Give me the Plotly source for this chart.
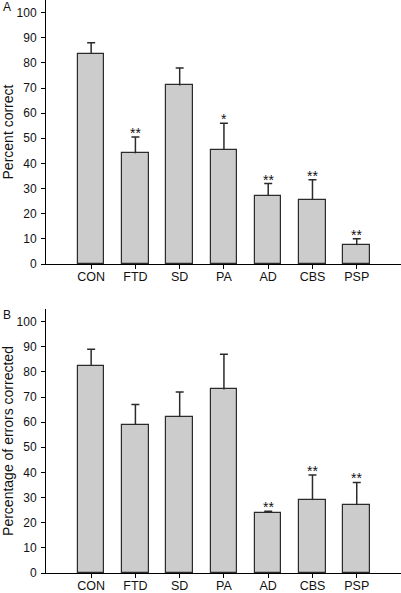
import plotly.graph_objects as go
from plotly.subplots import make_subplots

categories = ["CON", "FTD", "SD", "PA", "AD", "CBS", "PSP"]

percent_correct = [83.5, 44, 71, 45.5, 27, 25.5, 7.5]
percent_correct_err = [4.5, 6.5, 7, 10.5, 5, 8, 2.5]
percent_correct_sig = ["", "**", "", "*", "**", "**", "**"]

errors_corrected = [82.5, 59, 62, 73, 24, 29, 27]
errors_corrected_err = [6.5, 8, 10, 14, 0.6, 10, 9]
errors_corrected_sig = ["", "", "", "", "**", "**", "**"]

ylabels = ["Percent correct", "Percentage of errors corrected"]
panel_labels = ["A", "B"]

FONT = "Liberation Sans, Arial, sans-serif"
BAR_FILL = "#cccccc"
DARK = "#2b2b2b"

fig = make_subplots(rows=2, cols=1, vertical_spacing=(309 - 264) / 573)

panels = [
    (percent_correct, percent_correct_err, percent_correct_sig),
    (errors_corrected, errors_corrected_err, errors_corrected_sig),
]

for i, (vals, errs, sig) in enumerate(panels, start=1):
    fig.add_trace(
        go.Bar(
            x=categories,
            y=vals,
            width=0.6,
            marker=dict(color=BAR_FILL, line=dict(color=DARK, width=1.2)),
            showlegend=False,
            hoverinfo="skip",
        ),
        row=i,
        col=1,
    )
    # upper-only error whiskers
    wx, wy = [], []
    for c, v, e in zip(categories, vals, errs):
        wx += [c, c, None]
        wy += [v, v + e, None]
    fig.add_trace(
        go.Scatter(
            x=wx, y=wy, mode="lines",
            line=dict(color=DARK, width=1.5),
            showlegend=False, hoverinfo="skip",
        ),
        row=i, col=1,
    )
    # caps
    fig.add_trace(
        go.Scatter(
            x=categories,
            y=[v + e for v, e in zip(vals, errs)],
            mode="markers",
            marker=dict(size=1, opacity=0),
            error_y=dict(type="data", array=[0] * len(vals), color=DARK, thickness=1.5, width=4),
            showlegend=False, hoverinfo="skip",
        ),
        row=i, col=1,
    )
    for c, v, e, s in zip(categories, vals, errs, sig):
        if s:
            fig.add_annotation(
                x=c,
                y=v + e,
                text=s,
                showarrow=False,
                yanchor="middle",
                yshift=4,
                font=dict(family=FONT, size=14, color="#111"),
                xref=f"x{i if i > 1 else ''}",
                yref=f"y{i if i > 1 else ''}",
            )

axis_common = dict(
    showgrid=False,
    zeroline=False,
    showline=True,
    linecolor="black",
    linewidth=1,
    ticks="outside",
    ticklen=4,
    tickwidth=1,
    tickcolor="black",
    automargin=False,
)

for i in (1, 2):
    fig.update_xaxes(
        range=[-1.02, 7.0],
        tickfont=dict(family=FONT, size=12.5, color="#111"),
        ticklabelstandoff=-3,
        **axis_common,
        row=i,
        col=1,
    )
    fig.update_yaxes(
        range=[0, 105],
        tickvals=list(range(0, 101, 10)),
        tickfont=dict(family=FONT, size=12, color="#111"),
        ticklabelstandoff=2,
        title=dict(text=ylabels[i - 1], font=dict(family=FONT, size=14, color="#111"), standoff=6),
        **axis_common,
        row=i,
        col=1,
    )

plot_w = 401 - 46
plot_h = 573
for lab, (px, py) in zip(panel_labels, [(6.5, 7), (6.5, 315)]):
    fig.add_annotation(
        x=(px - 46) / plot_w,
        y=(573 - py) / plot_h,
        xref="paper",
        yref="paper",
        text=lab,
        showarrow=False,
        xanchor="center",
        yanchor="middle",
        font=dict(family=FONT, size=12, color="#111"),
    )

fig.update_layout(
    width=401,
    height=593,
    margin=dict(l=46, r=0, t=0, b=20),
    plot_bgcolor="white",
    paper_bgcolor="white",
    bargap=0,
)

fig.write_html(
    "out.html",
    config={"displayModeBar": False},
    post_script="document.body.style.margin='0px';",
)
